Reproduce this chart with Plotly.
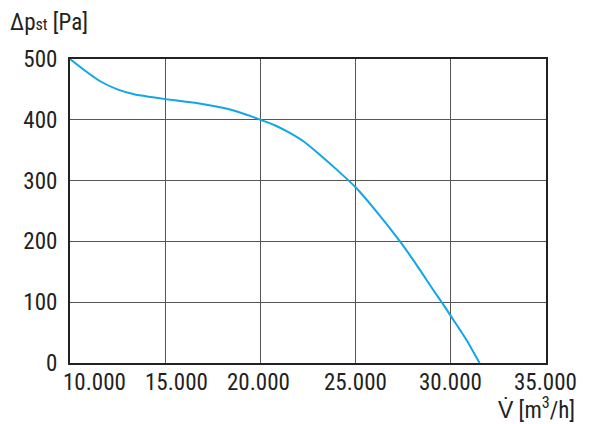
import plotly.graph_objects as go

flow = [10000, 10740, 11610, 12490, 13370, 14240, 15000, 16000, 16870, 17750, 18630, 19500,
        20000, 20750, 21450, 22330, 23210, 24080, 25000, 26100, 27330, 28210, 29080,
        29610, 30050, 30840, 31510]
pressure = [500, 482, 463, 450, 442, 437.5, 434, 430, 426.5, 421.5, 415, 406,
            400, 391, 380, 363, 340, 316, 289, 249, 200, 161, 120,
            96, 75, 37, 0]

x_ticks = [10000, 15000, 20000, 25000, 30000, 35000]
x_labels = ["10.000", "15.000", "20.000", "25.000", "30.000", "35.000"]
y_ticks = [0, 100, 200, 300, 400, 500]

# horizontal pixel offsets of the x tick labels (style only)
x_label_shift = [24, 11, -2, 0, 0, -1]

FONT = "Liberation Sans Narrow, Roboto Condensed, Arial Narrow, Liberation Sans, sans-serif"

fig = go.Figure()
fig.add_trace(go.Scatter(x=flow, y=pressure, mode="lines",
                         line=dict(color="#12a6e6", width=2, shape="spline", smoothing=0.6),
                         hoverinfo="skip", showlegend=False))

annotations = [
    dict(text="Δp<span style='font-size:16px'>st</span> [Pa]", x=-62/476, y=1 + 52/304,
         xref="paper", yref="paper", showarrow=False, xanchor="left", yanchor="top",
         font=dict(size=23)),
    dict(text="V̇ [m<sup>3</sup>/h]", x=1 + 31/476, y=-28/304,
         xref="paper", yref="paper", showarrow=False, xanchor="right", yanchor="top",
         font=dict(size=23)),
]
for v, lab, sh in zip(x_ticks, x_labels, x_label_shift):
    annotations.append(dict(text=lab, x=v, y=0, xref="x", yref="paper",
                            xshift=sh, yshift=-4, showarrow=False,
                            xanchor="center", yanchor="top", font=dict(size=23)))

fig.update_layout(
    width=600, height=424,
    margin=dict(l=70, r=54, t=59, b=61),
    paper_bgcolor="white", plot_bgcolor="white",
    font=dict(family=FONT, size=23, color="#222"),
    xaxis=dict(range=[10000, 35000], tickvals=x_ticks, showticklabels=False,
               showgrid=True, gridcolor="#555", gridwidth=1.3,
               showline=True, linecolor="#222", linewidth=2, mirror=True,
               ticks="", zeroline=False, fixedrange=True),
    yaxis=dict(range=[0, 500], tickvals=y_ticks,
               showgrid=True, gridcolor="#555", gridwidth=1.3,
               showline=True, linecolor="#222", linewidth=2, mirror=True,
               ticks="", zeroline=False, fixedrange=True, ticklabelstandoff=6),
    annotations=annotations,
)

fig.write_html("out.html")
